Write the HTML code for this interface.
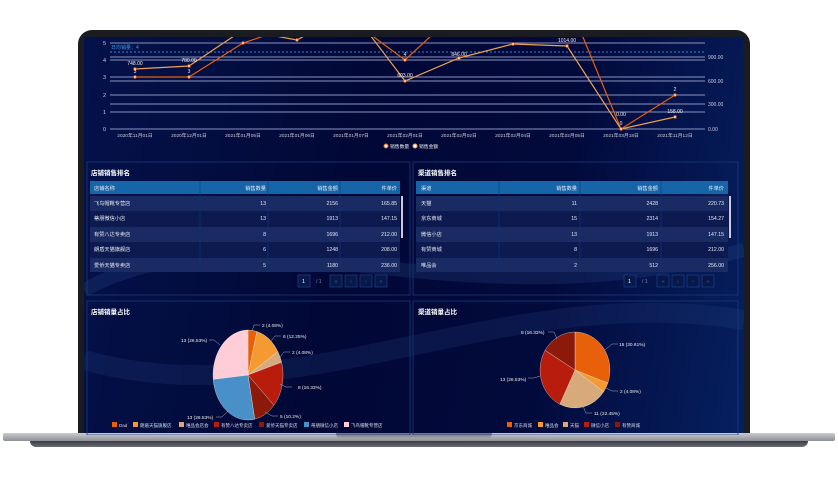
<!DOCTYPE html><html><head><meta charset="utf-8"><style>
body{margin:0;width:838px;height:483px;background:#fff;position:relative;overflow:hidden;font-family:"Liberation Sans","Noto Sans CJK SC",sans-serif;}
.a{position:absolute}
</style></head><body>
<div class="a" style="left:78px;top:30px;width:672px;height:410px;background:#1a1c22;border-radius:14px 14px 0 0"></div>
<div class="a" style="left:84px;top:37px;width:660px;height:398px;background:linear-gradient(100deg,#04124a 0%,#010836 40%,#020a3c 70%,#062060 100%)"></div>
<div class="a" style="left:3px;top:433px;width:832px;height:8px;background:linear-gradient(#c9cbcf,#8d9096);border-radius:2px"></div>
<div class="a" style="left:30px;top:441px;width:778px;height:6px;background:linear-gradient(#3a3d44,#6a6d72);border-radius:0 0 30px 30px"></div>
<div class="a" style="left:336px;top:433px;width:156px;height:6px;background:linear-gradient(#707378,#a7a9ad);border-radius:0 0 6px 6px"></div>
<svg class="a" style="left:0;top:0" width="838" height="483" font-family="Liberation Sans,Noto Sans CJK SC,sans-serif">
<defs><clipPath id="c"><rect x="84" y="37" width="660" height="398"/></clipPath><clipPath id="p"><rect x="108" y="37" width="600" height="100"/></clipPath></defs>
<g clip-path="url(#c)">
<path d="M84 290 C250 200 450 330 744 250" stroke="#2b4a8a" stroke-width="14" fill="none" opacity=".25"/>
<path d="M84 360 C300 420 500 280 744 320" stroke="#2b4a8a" stroke-width="20" fill="none" opacity=".2"/>
<g stroke="#8a93c0" stroke-width="1">
<line x1="110" y1="129" x2="705" y2="129"/><line x1="110" y1="112" x2="705" y2="112"/><line x1="110" y1="95" x2="705" y2="95"/><line x1="110" y1="77" x2="705" y2="77"/><line x1="110" y1="60" x2="705" y2="60"/><line x1="110" y1="43" x2="705" y2="43"/>
<line x1="110" y1="104" x2="705" y2="104"/><line x1="110" y1="81" x2="705" y2="81"/><line x1="110" y1="57" x2="705" y2="57"/>
</g>
<line x1="110" y1="52" x2="705" y2="52" stroke="#2a8ae0" stroke-dasharray="2,2"/>
<text x="111" y="49" font-size="5" fill="#3a9af0">日均销量：4</text>
<g font-size="5.5" fill="#ccd" text-anchor="end"><text x="106" y="131">0</text><text x="106" y="114">1</text><text x="106" y="97">2</text><text x="106" y="79">3</text><text x="106" y="62">4</text><text x="106" y="45">5</text></g>
<g font-size="5" fill="#ccd"><text x="708" y="131">0.00</text><text x="708" y="106">300.00</text><text x="708" y="83">600.00</text><text x="708" y="59">900.00</text></g>
<g font-size="4.8" fill="#ccd" text-anchor="middle"><text x="135" y="137">2020年11月01日</text><text x="189" y="137">2020年12月01日</text><text x="243" y="137">2021年01月05日</text><text x="297" y="137">2021年01月06日</text><text x="351" y="137">2021年01月07日</text><text x="405" y="137">2021年02月01日</text><text x="459" y="137">2021年02月02日</text><text x="513" y="137">2021年02月04日</text><text x="567" y="137">2021年02月05日</text><text x="621" y="137">2021年03月18日</text><text x="675" y="137">2021年11月12日</text></g>
<g clip-path="url(#p)" fill="none">
<polyline points="135,77 189,77 243,43 297,25 351,20 405,60 459,10 513,10 567,10 580,30 621,129 675,95" stroke="#e8600a" stroke-width="1.2"/>
<polyline points="135,69 189,66 243,30 297,40 351,10 405,81 459,58 513,44 567,46 621,129 675,117" stroke="#f0a050" stroke-width="1.2"/>
<g fill="#fff" stroke="#e8600a" stroke-width=".8"><circle cx="135" cy="77" r="1.3"/><circle cx="189" cy="77" r="1.3"/><circle cx="243" cy="43" r="1.3"/><circle cx="405" cy="60" r="1.3"/><circle cx="621" cy="129" r="1.3"/><circle cx="675" cy="95" r="1.3"/><circle cx="135" cy="69" r="1.3"/><circle cx="189" cy="66" r="1.3"/><circle cx="297" cy="40" r="1.3"/><circle cx="405" cy="81" r="1.3"/><circle cx="459" cy="58" r="1.3"/><circle cx="513" cy="44" r="1.3"/><circle cx="567" cy="46" r="1.3"/><circle cx="675" cy="117" r="1.3"/></g>
</g>
<g font-size="5" fill="#eee" text-anchor="middle"><text x="135" y="65">748.00</text><text x="189" y="62">780.00</text><text x="135" y="73">3</text><text x="189" y="73">3</text><text x="405" y="56">4</text><text x="405" y="77">603.00</text><text x="459" y="56">846.00</text><text x="567" y="42">1014.00</text><text x="621" y="116">0.00</text><text x="621" y="125">0</text><text x="675" y="91">2</text><text x="675" y="113">158.00</text></g>
<circle cx="386" cy="146" r="2" fill="#fff" stroke="#e8600a"/><text x="390" y="148" font-size="4.8" fill="#eee">销售数量</text>
<circle cx="415" cy="146" r="2" fill="#fff" stroke="#f0a050"/><text x="419" y="148" font-size="4.8" fill="#eee">销售金额</text>
<g fill="none" stroke="#1a3a7a" stroke-width=".8"><rect x="87" y="162" width="323" height="133"/><rect x="413" y="162" width="325" height="133"/><rect x="87" y="301" width="323" height="134"/><rect x="413" y="301" width="325" height="134"/></g>
<g font-size="6.5" fill="#fff" font-weight="bold"><text x="91" y="175">店铺销售排名</text><text x="418" y="175">渠道销售排名</text><text x="91" y="314">店铺销量占比</text><text x="418" y="314">渠道销量占比</text></g>
<rect x="90" y="181" width="310" height="13" fill="#1565a8"/>
<g fill="#1a2a62"><rect x="90" y="196" width="310" height="15"/><rect x="90" y="227" width="310" height="15"/><rect x="90" y="258" width="310" height="14"/></g>
<g fill="#0d1a50"><rect x="90" y="211" width="310" height="16"/><rect x="90" y="242" width="310" height="16"/></g>
<g stroke="#0a3a80" stroke-width=".6"><line x1="200" y1="181" x2="200" y2="272"/><line x1="268" y1="181" x2="268" y2="272"/><line x1="340" y1="181" x2="340" y2="272"/></g>
<rect x="401" y="196" width="2" height="42" fill="#ccd"/>
<g font-size="5.2" fill="#e6e8f2"><text x="94" y="190">店铺名称</text><text x="94" y="205">飞鸟帽靴专营店</text><text x="94" y="220">蒂朋微信小店</text><text x="94" y="236">有赞八达专卖店</text><text x="94" y="251">朗盾天猫旗舰店</text><text x="94" y="267">爱侨天猫专卖店</text></g>
<g font-size="5.2" fill="#e6e8f2" text-anchor="end"><text x="266" y="190">销售数量</text><text x="338" y="190">销售金额</text><text x="397" y="190">件单价</text>
<text x="266" y="205">13</text><text x="338" y="205">2156</text><text x="397" y="205">165.85</text>
<text x="266" y="220">13</text><text x="338" y="220">1913</text><text x="397" y="220">147.15</text>
<text x="266" y="236">8</text><text x="338" y="236">1696</text><text x="397" y="236">212.00</text>
<text x="266" y="251">6</text><text x="338" y="251">1248</text><text x="397" y="251">208.00</text>
<text x="266" y="267">5</text><text x="338" y="267">1180</text><text x="397" y="267">236.00</text></g>
<rect x="416" y="181" width="312" height="13" fill="#1565a8"/>
<g fill="#1a2a62"><rect x="416" y="196" width="312" height="15"/><rect x="416" y="227" width="312" height="15"/><rect x="416" y="258" width="312" height="14"/></g>
<g fill="#0d1a50"><rect x="416" y="211" width="312" height="16"/><rect x="416" y="242" width="312" height="16"/></g>
<g stroke="#0a3a80" stroke-width=".6"><line x1="499" y1="181" x2="499" y2="272"/><line x1="580" y1="181" x2="580" y2="272"/><line x1="661" y1="181" x2="661" y2="272"/></g>
<rect x="729" y="196" width="2" height="42" fill="#ccd"/>
<g font-size="5.2" fill="#e6e8f2"><text x="421" y="190">渠道</text><text x="421" y="205">天猫</text><text x="421" y="220">京东商城</text><text x="421" y="236">微信小店</text><text x="421" y="251">有赞商城</text><text x="421" y="267">唯品会</text></g>
<g font-size="5.2" fill="#e6e8f2" text-anchor="end"><text x="577" y="190">销售数量</text><text x="658" y="190">销售金额</text><text x="724" y="190">件单价</text>
<text x="577" y="205">11</text><text x="658" y="205">2428</text><text x="724" y="205">220.73</text>
<text x="577" y="220">15</text><text x="658" y="220">2314</text><text x="724" y="220">154.27</text>
<text x="577" y="236">13</text><text x="658" y="236">1913</text><text x="724" y="236">147.15</text>
<text x="577" y="251">8</text><text x="658" y="251">1696</text><text x="724" y="251">212.00</text>
<text x="577" y="267">2</text><text x="658" y="267">512</text><text x="724" y="267">256.00</text></g>
<g fill="#0a1848" stroke="#1a4a9a" stroke-width=".6"><rect x="298" y="275" width="12" height="12"/><rect x="330" y="275" width="12" height="12"/><rect x="345" y="275" width="12" height="12"/><rect x="360" y="275" width="12" height="12"/><rect x="375" y="275" width="12" height="12"/>
<rect x="624" y="275" width="12" height="12"/><rect x="657" y="275" width="12" height="12"/><rect x="672" y="275" width="12" height="12"/><rect x="687" y="275" width="12" height="12"/><rect x="702" y="275" width="12" height="12"/></g>
<g font-size="5.5" fill="#fff"><text x="302" y="283">1</text><text x="628" y="283">1</text></g>
<g font-size="5" fill="#88a"><text x="316" y="283">/ 1</text><text x="642" y="283">/ 1</text></g>
<g font-size="5" fill="#1e6ad0" text-anchor="middle"><text x="336" y="283">«</text><text x="351" y="283">‹</text><text x="366" y="283">›</text><text x="381" y="283">»</text><text x="663" y="283">«</text><text x="678" y="283">‹</text><text x="693" y="283">›</text><text x="708" y="283">»</text></g>
<g stroke="#fff" stroke-width=".3">
<path d="M248 375 L248 330 A35 45 0 0 1 256.9 331.5Z" fill="#e8600a"/>
<path d="M248 375 L256.9 331.5 A35 45 0 0 1 277.9 351.7Z" fill="#f59a30"/>
<path d="M248 375 L277.9 351.7 A35 45 0 0 1 281.6 362.2Z" fill="#d8a97a"/>
<path d="M248 375 L281.6 362.2 A35 45 0 0 1 273.9 405.3Z" fill="#b71c0c"/>
<path d="M248 375 L273.9 405.3 A35 45 0 0 1 254.7 419.2Z" fill="#8b1a0a"/>
<path d="M248 375 L254.7 419.2 A35 45 0 0 1 213.2 379.3Z" fill="#4a90c8"/>
<path d="M248 375 L213.2 379.3 A35 45 0 0 1 248 330Z" fill="#ffcdd8"/>
</g>
<g fill="none" stroke="#aab" stroke-width=".5"><polyline points="252,331 254,325 260,325"/><polyline points="270,342 275,336 281,336"/><polyline points="280,357 284,352 290,352"/><polyline points="280,384 286,387 292,387"/><polyline points="265,412 272,416 278,416"/><polyline points="228,411 222,417 216,417"/><polyline points="220,345 214,340 209,340"/></g>
<g font-size="4.8" fill="#eee"><text x="262" y="327">2 (4.08%)</text><text x="283" y="338">6 (12.25%)</text><text x="292" y="354">2 (4.08%)</text><text x="298" y="389">8 (16.33%)</text><text x="280" y="418">5 (10.2%)</text><text x="187" y="419">13 (26.53%)</text><text x="181" y="342">13 (26.53%)</text></g>
<g font-size="4.5" fill="#dde">
<rect x="112" y="422" width="5" height="5" fill="#e8600a"/><text x="119" y="427">Dad</text>
<rect x="133" y="422" width="5" height="5" fill="#f59a30"/><text x="140" y="427">朗盾天猫旗舰店</text>
<rect x="179" y="422" width="5" height="5" fill="#d8a97a"/><text x="186" y="427">唯品会店会</text>
<rect x="214" y="422" width="5" height="5" fill="#b71c0c"/><text x="221" y="427">有赞八达专卖店</text>
<rect x="259" y="422" width="5" height="5" fill="#8b1a0a"/><text x="266" y="427">爱侨天猫专卖店</text>
<rect x="304" y="422" width="5" height="5" fill="#4a90c8"/><text x="311" y="427">蒂朋微信小店</text>
<rect x="344" y="422" width="5" height="5" fill="#ffcdd8"/><text x="351" y="427">飞鸟帽靴专营店</text></g>
<g stroke="#fff" stroke-width=".3">
<path d="M575 370 L575 332 A35 38 0 0 1 607.8 383.1Z" fill="#e8600a"/>
<path d="M575 370 L607.8 383.1 A35 38 0 0 1 603.7 391.7Z" fill="#f59a30"/>
<path d="M575 370 L603.7 391.7 A35 38 0 0 1 559.8 404.2Z" fill="#d8a97a"/>
<path d="M575 370 L559.8 404.2 A35 38 0 0 1 545.1 350.3Z" fill="#b71c0c"/>
<path d="M575 370 L545.1 350.3 A35 38 0 0 1 575 332Z" fill="#8b1a0a"/>
</g>
<g fill="none" stroke="#aab" stroke-width=".5"><polyline points="605,350 612,344 618,344"/><polyline points="606,388 612,391 618,391"/><polyline points="583,406 586,413 592,413"/><polyline points="540,376 534,378 528,378"/><polyline points="557,339 554,332 548,332"/></g>
<g font-size="4.8" fill="#eee"><text x="619" y="346">15 (30.61%)</text><text x="620" y="393">2 (4.08%)</text><text x="594" y="415">11 (22.45%)</text><text x="500" y="381">13 (26.53%)</text><text x="521" y="334">8 (16.33%)</text></g>
<g font-size="4.5" fill="#dde">
<rect x="507" y="422" width="5" height="5" fill="#e8600a"/><text x="514" y="427">京东商城</text>
<rect x="538" y="422" width="5" height="5" fill="#f59a30"/><text x="545" y="427">唯品会</text>
<rect x="563" y="422" width="5" height="5" fill="#d8a97a"/><text x="570" y="427">天猫</text>
<rect x="584" y="422" width="5" height="5" fill="#b71c0c"/><text x="591" y="427">微信小店</text>
<rect x="615" y="422" width="5" height="5" fill="#8b1a0a"/><text x="622" y="427">有赞商城</text></g>
</g>
</svg>
</body></html>
